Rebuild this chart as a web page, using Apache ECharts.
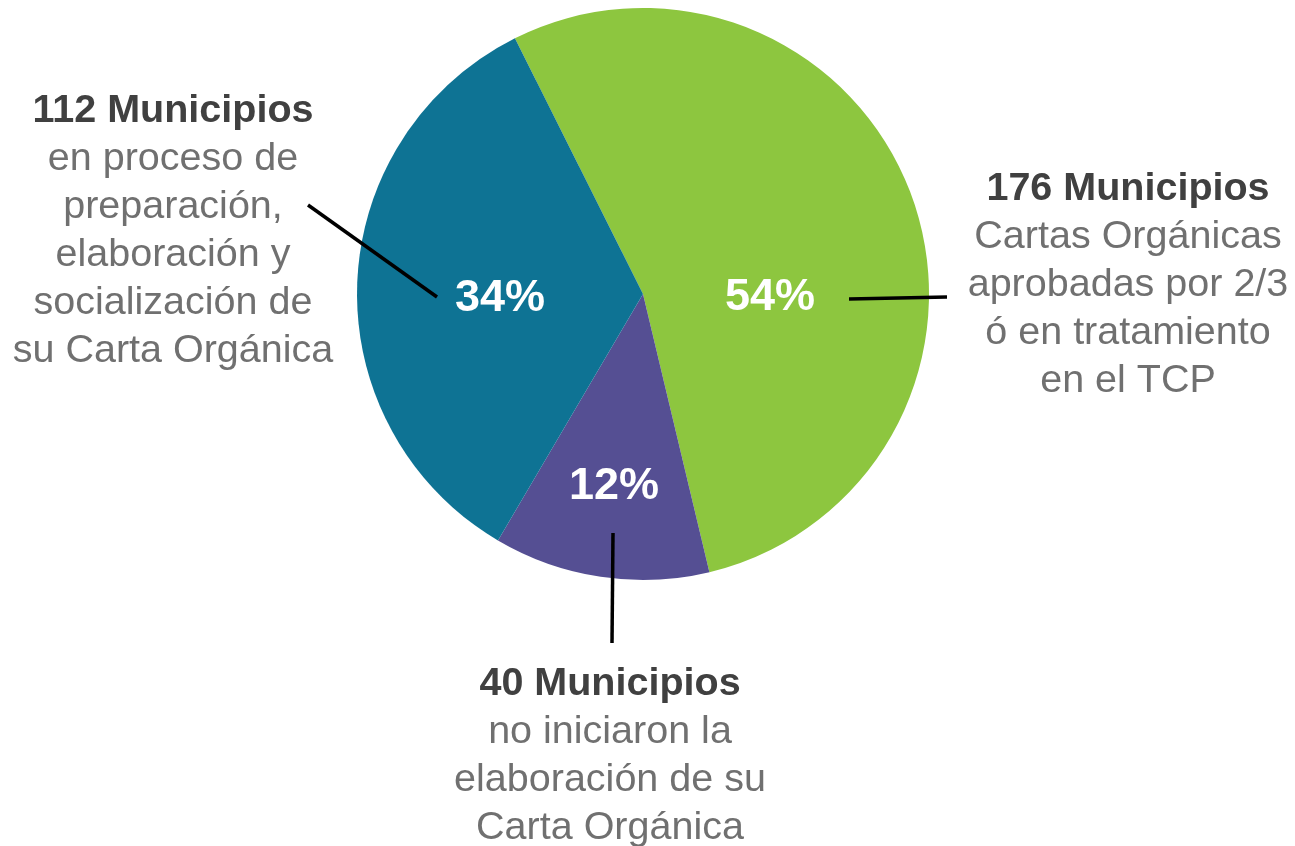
<!DOCTYPE html>
<html>
<head>
<meta charset="utf-8">
<script src="https://cdn.jsdelivr.net/npm/echarts@6/dist/echarts.min.js"></script>
<style>
  html, body { margin: 0; padding: 0; background: #ffffff; }
  #chart { width: 1295px; height: 846px; }
</style>
</head>
<body>
<div id="chart"></div>
<script>
// datos del gráfico
const titulos = ['176 Municipios', '40 Municipios', '112 Municipios'];
const valores = [176, 40, 112];
const descripciones = [
	['Cartas Orgánicas', 'aprobadas por 2/3', 'ó en tratamiento', 'en el TCP'],
	['no iniciaron la', 'elaboración de su', 'Carta Orgánica'],
	['en proceso de', 'preparación,', 'elaboración y', 'socialización de', 'su Carta Orgánica'],
];
const colores = ['#8DC63F', '#554F93', '#0E7394'];

// posiciones de las etiquetas (px)
const posPorcentaje = [[770, 298], [614, 487], [500, 299]];
const posTexto = [[1128, 165], [610, 660], [173, 87]];
const lineas = [
	[[849, 299], [947, 297]],
	[[613, 533], [612, 643]],
	[[437, 297], [308, 205]],
];

const fuente = '"Liberation Sans", Arial, Helvetica, sans-serif';

const datos = valores.map((v, i) => ({
	value: v,
	name: titulos[i],
	itemStyle: { color: colores[i] },
}));

const myChart = echarts.init(document.getElementById('chart'), null, { renderer: 'canvas' });

const option = {
	backgroundColor: '#ffffff',
	animation: false,
	series: [
		{
			type: 'pie',
			z: 2,
			center: [643, 294],
			radius: 286,
			startAngle: 116.6,
			clockwise: true,
			percentPrecision: 0,
			silent: true,
			data: datos,
			itemStyle: { borderWidth: 0 },
			label: {
				show: true,
				position: 'inside',
				formatter: '{d}%',
				color: '#ffffff',
				fontFamily: fuente,
				fontWeight: 'bold',
				fontSize: 45,
			},
			labelLine: { show: false },
			labelLayout: (p) => ({
				x: posPorcentaje[p.dataIndex][0],
				y: posPorcentaje[p.dataIndex][1],
				align: 'center',
				verticalAlign: 'middle',
			}),
		},
		{
			type: 'pie',
			z: 5,
			center: [643, 294],
			radius: 286,
			startAngle: 116.6,
			clockwise: true,
			silent: true,
			data: datos.map((d) => ({ value: d.value, name: d.name })),
			itemStyle: { color: 'rgba(0,0,0,0)', borderWidth: 0 },
			emphasis: { disabled: true },
			label: {
				show: true,
				position: 'outside',
				overflow: 'none',
				width: 400,
				fontFamily: fuente,
				formatter: (p) => {
					let s = '{t|' + titulos[p.dataIndex] + '}';
					descripciones[p.dataIndex].forEach((l) => {
						s += '\n{b|' + l + '}';
					});
					return s;
				},
				rich: {
					t: {
						fontFamily: fuente,
						fontWeight: 'bold',
						fontSize: 39.5,
						lineHeight: 48,
						color: '#404040',
						align: 'center',
					},
					b: {
						fontFamily: fuente,
						fontSize: 39.5,
						lineHeight: 48,
						color: '#707070',
						align: 'center',
					},
				},
			},
			labelLine: {
				show: true,
				z: 10,
				lineStyle: { color: '#000000', width: 3.5 },
			},
			labelLayout: (p) => ({
				x: posTexto[p.dataIndex][0],
				y: posTexto[p.dataIndex][1],
				align: 'center',
				verticalAlign: 'top',
				labelLinePoints: lineas[p.dataIndex],
			}),
		},
	],
};

myChart.setOption(option);
window.addEventListener('resize', () => {
	myChart.resize();
});
</script>
</body>
</html>
